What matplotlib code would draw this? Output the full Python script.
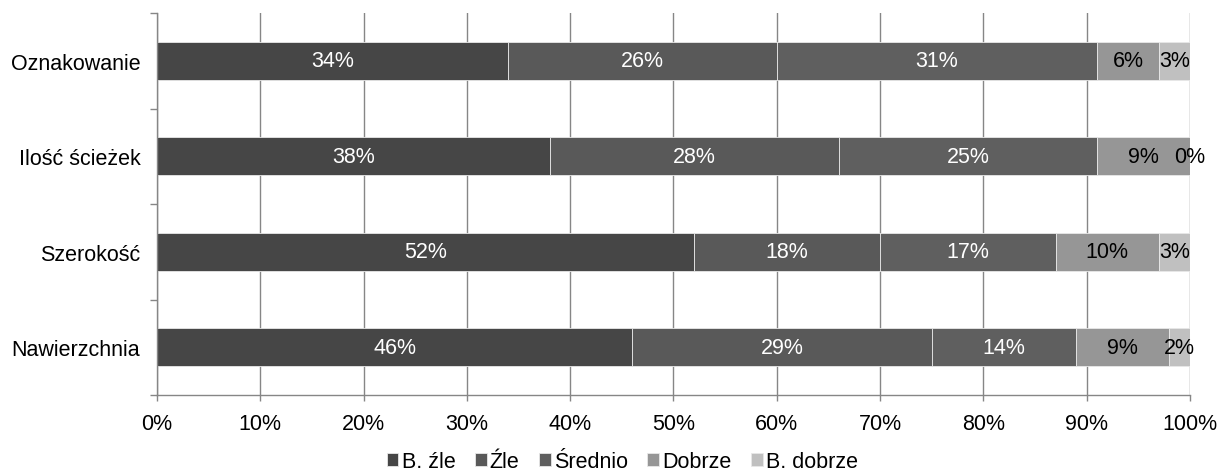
import matplotlib.pyplot as plt
import numpy as np

plt.rcParams["font.family"] = ["Liberation Sans", "DejaVu Sans"]

categories = ["Oznakowanie", "Ilość ścieżek", "Szerokość", "Nawierzchnia"]
series = ["B. źle", "Źle", "Średnio", "Dobrze", "B. dobrze"]
values = np.array([
    [34, 26, 31, 6, 3],
    [38, 28, 25, 9, 0],
    [52, 18, 17, 10, 3],
    [46, 29, 14, 9, 2],
])
colors = ["#464646", "#595959", "#5f5f5f", "#969696", "#c0c0c0"]
text_colors = ["white", "white", "white", "black", "black"]
fs = 15.5

fig = plt.figure(figsize=(12.18, 4.77), dpi=100)
ax = fig.add_axes([0.1289, 0.1698, 0.8481, 0.8008])

y = np.arange(len(categories))
left = np.zeros(len(categories))
for j, name in enumerate(series):
    vals = values[:, j]
    ax.barh(y, vals, left=left, height=0.4, color=colors[j],
            edgecolor="#e8e8e8", linewidth=0.6, label=name, zorder=2)
    for i, v in enumerate(vals):
        ax.text(left[i] + v / 2, y[i], f"{v}%", ha="center", va="center",
                color=text_colors[j], fontsize=fs, zorder=3)
    left += vals

ax.set_xlim(0, 100)
ax.set_ylim(len(categories) - 0.5, -0.5)
ax.set_xticks(np.arange(0, 101, 10))
ax.set_xticklabels([f"{t}%" for t in range(0, 101, 10)], fontsize=fs)
ax.set_yticks(y)
ax.set_yticklabels(categories, fontsize=fs)
ax.set_yticks(np.arange(-0.5, len(categories), 1), minor=True)
ax.tick_params(axis="y", which="major", length=0, pad=12)
ax.tick_params(axis="y", which="minor", length=5, color="#868686", width=1)
ax.tick_params(axis="x", length=4, color="#868686", width=1, pad=9)

ax.grid(axis="x", color="#868686", linewidth=1, zorder=0)
ax.set_axisbelow(True)
for side in ["top", "right"]:
    ax.spines[side].set_visible(False)
for side in ["left", "bottom"]:
    ax.spines[side].set_color("#868686")
    ax.spines[side].set_linewidth(1)

fig.legend(loc="lower center", bbox_to_anchor=(0.511, -0.033), ncol=5,
           frameon=False, fontsize=fs, handlelength=0.55, handleheight=0.55,
           handletextpad=0.15, columnspacing=0.9)

fig.savefig("out.png", dpi=100)
